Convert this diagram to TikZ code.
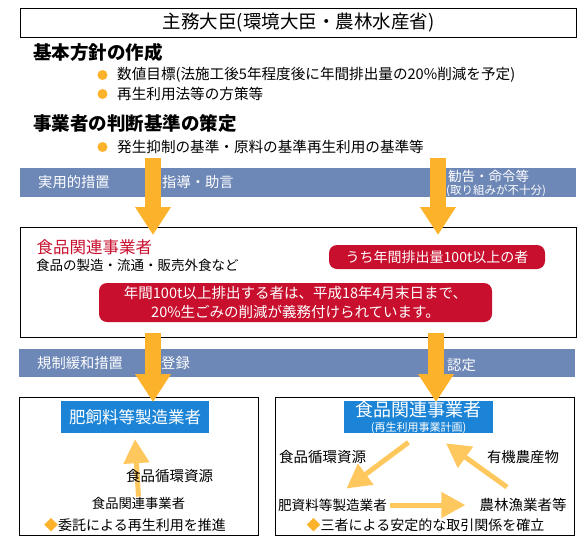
\documentclass[tikz,border=0pt]{standalone}
\usepackage{fontspec}
\setmainfont{Noto Sans CJK JP}
\usetikzlibrary{arrows.meta, calc}
\definecolor{cBand}{HTML}{6D87B7}
\definecolor{cArrow}{HTML}{FCB32B}
\definecolor{cPale}{HTML}{FFC85E}
\definecolor{cRed}{HTML}{C8102E}
\definecolor{cBlue}{HTML}{1B84D7}
\newcommand{\jsize}[1]{\fontsize{#1}{#1}\selectfont}
\tikzset{
  frame/.style={draw=black, line width=1pt, anchor=north west, inner sep=0pt},
  band/.style={fill=cBand, anchor=north west, inner sep=0pt, minimum width=556pt},
  bandtext/.style={anchor=west, inner sep=0pt, text=white, font=\jsize{14.3}},
  heading/.style={anchor=west, inner sep=0pt, font=\jsize{18.5}\bfseries},
  item/.style={anchor=west, inner sep=0pt, font=\jsize{14.6}},
  plain/.style={inner sep=0pt, font=\jsize{14}},
  dot/.style={circle, fill=cArrow, minimum size=10pt, inner sep=0pt},
  redpill/.style={fill=cRed, rounded corners=8pt, text=white, inner sep=0pt},
  bluebox/.style={fill=cBlue, text=white, inner sep=0pt, align=center},
  bigarrow/.style={draw=cArrow, line width=16pt, -{Triangle[width=34pt, length=28pt]}},
  palearrow/.style={draw=cPale, line width=5pt, -{Triangle[width=25pt, length=24pt]}},
}

\begin{document}
\begin{tikzpicture}[x=1pt, y=-1pt]
  \useasboundingbox (0,0) rectangle (588,550);

  % ==================================================================
  % Minister and basic policy
  % ==================================================================
  \node[frame, minimum width=556pt, minimum height=29pt, font=\jsize{18.5}] (minister) at (20,8)
    {主務大臣(環境大臣・農林水産省)};

  \node[heading] (policy) at (33,52) {基本方針の作成};
  \node[dot] (dotA) at (102.5,75) {};
  \node[item] (target) at (117,75) {数値目標(法施工後5年程度後に年間排出量の20\%削減を予定)};
  \node[dot] (dotB) at (102.5,94) {};
  \node[item] (measures) at (117,94) {再生利用法等の方策等};

  \node[heading] (criteria) at (33,123) {事業者の判断基準の策定};
  \node[dot] (dotC) at (102.5,147) {};
  \node[item] (standards) at (117,147) {発生抑制の基準・原料の基準再生利用の基準等};

  % ==================================================================
  % Band 1 and food business box
  % ==================================================================
  \node[band, minimum height=29pt] (band1) at (20,168) {};
  \node[bandtext] (practical) at (38,182) {実用的措置};
  \node[bandtext] (guidance) at (162,182) {指導・助言};
  \node[bandtext, font=\jsize{13.5}] (order) at (448,176) {勧告・命令等};
  \node[bandtext, font=\jsize{11.5}] (insuff) at (446,190.5) {(取り組みが不十分)};

  \node[frame, minimum width=556pt, minimum height=110pt] (business) at (20,227) {};
  \node[anchor=west, inner sep=0pt, text=cRed, font=\jsize{16.5}] (foodred) at (36.5,247) {食品関連事業者};
  \node[anchor=west, inner sep=0pt, font=\jsize{13.5}] (foodkinds) at (36,265) {食品の製造・流通・販売外食など};
  \node[redpill, minimum width=216pt, minimum height=24pt, font=\jsize{14}] (over100) at (437,257)
    {うち年間排出量100t以上の者};
  \node[redpill, minimum width=393pt, minimum height=39pt, align=center,
        font=\fontsize{14.5}{19}\selectfont] (duty) at (295.5,302.5)
    {年間100t以上排出する者は、平成18年4月末日まで、\\20\%生ごみの削減が義務付けられています。};

  % ==================================================================
  % Band 2 and the two lower boxes
  % ==================================================================
  \node[band, minimum height=28pt] (band2) at (19,349) {};
  \node[bandtext] (deregulation) at (37,363) {規制緩和措置};
  \node[bandtext] (register) at (161,363) {登録};
  \node[bandtext] (approve) at (447,365) {認定};

  \node[frame, minimum width=239pt, minimum height=138pt] (leftbox) at (19,397) {};
  \node[frame, minimum width=299pt, minimum height=138pt] (rightbox) at (275,397) {};

  % left box
  \node[bluebox, minimum width=148pt, minimum height=32pt, font=\jsize{16.5}] (feed) at (135,417)
    {肥飼料等製造業者};
  \node[plain, font=\jsize{13.3}] (kanren) at (138.5,503) {食品関連事業者};
  \draw[palearrow] (kanren.north) -- ([yshift=-6pt]feed.south);
  \node[plain, font=\jsize{14.5}] (resourceL) at (169.5,476) {食品循環資源};
  \node[plain] (entrust) at (135,525) {{\color{cArrow}◆}委託による再生利用を推進};

  % right box
  \node[bluebox, minimum width=149pt, minimum height=32pt, font=\jsize{18}] (plan) at (418.5,417)
    {食品関連事業者\\[-3pt]{\jsize{11}(再生利用事業計画)}};
  \node[plain, font=\jsize{14.5}] (resourceR) at (322.5,457) {食品循環資源};
  \node[plain, font=\jsize{14.4}] (organic) at (523,457) {有機農産物};
  \node[plain, font=\jsize{13.6}] (hishi) at (332.5,505) {肥資料等製造業者};
  \node[plain, font=\jsize{14.5}] (noring) at (523,505) {農林漁業者等};
  \node[plain] (stable) at (425.5,525) {{\color{cArrow}◆}三者による安定的な取引関係を確立};

  \draw[palearrow] ($(plan.south)+(-10,9)$) -- ($(hishi.north)+(14,-10)$);
  \draw[palearrow] ($(noring.north)+(-16,-11)$) -- ($(plan.south)+(27.5,10)$);
  \draw[palearrow] ([xshift=3pt]hishi.east) -- ([xshift=-14pt]noring.west);

  % ----------------------------------------------------------------
  % Big arrows
  % ----------------------------------------------------------------
  \coordinate (guideTop) at (153,158);
  \coordinate (guideTip) at (153,235);
  \coordinate (orderTop) at (438,158);
  \coordinate (orderTip) at (438,235);
  \coordinate (registerTop) at (153,333);
  \coordinate (registerTip) at (153,402);
  \coordinate (approveTop) at (436,333);
  \coordinate (approveTip) at (436,402);

  \draw[bigarrow] (guideTop) -- (guideTip);
  \draw[bigarrow] (orderTop) -- (orderTip);
  \draw[bigarrow] (registerTop) -- (registerTip);
  \draw[bigarrow] (approveTop) -- (approveTip);
\end{tikzpicture}
\end{document}
